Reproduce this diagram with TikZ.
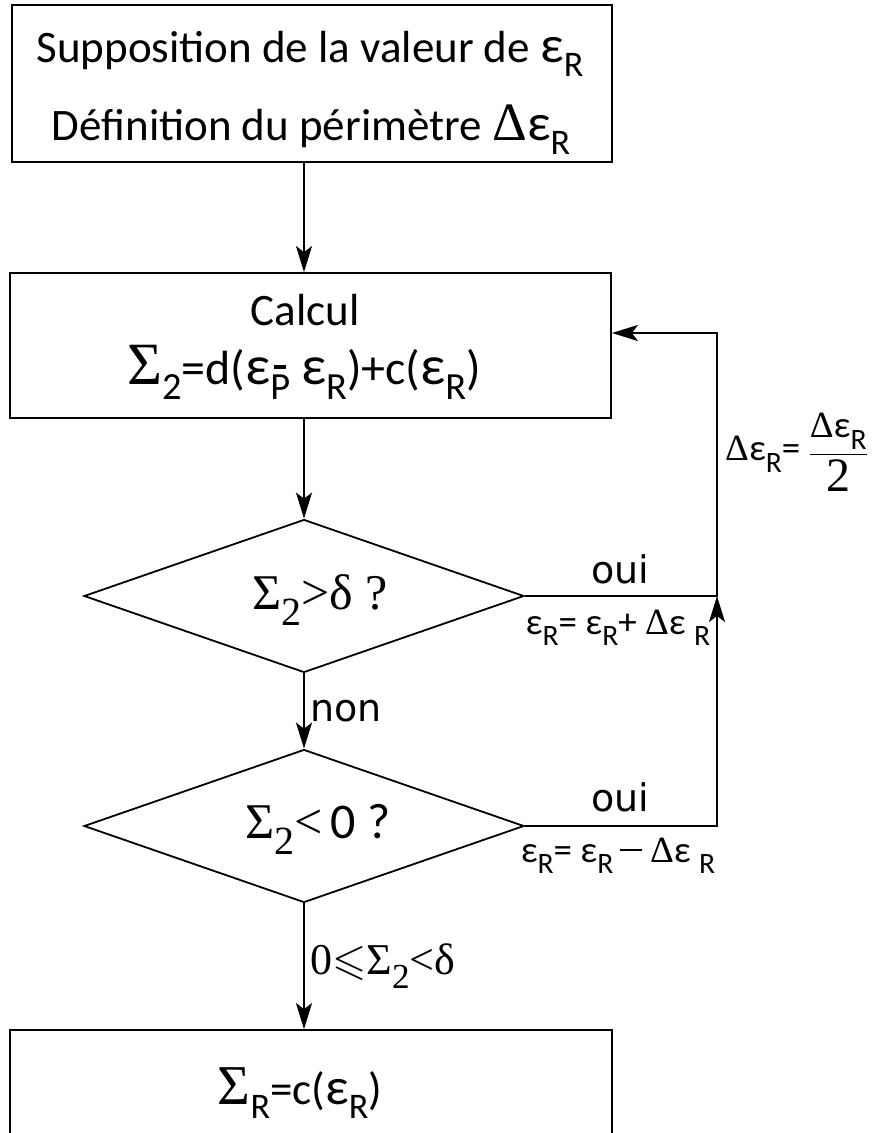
\documentclass[tikz,border=0pt]{standalone}
\usepackage{fontspec,amssymb}
\usetikzlibrary{arrows.meta,shapes.geometric}
\setmainfont{Carlito}
\newfontfamily\serif{Liberation Serif}
\newfontfamily\dvs{DejaVu Sans}
\newcommand{\dn}[1]{\raisebox{-.32em}{\scalebox{.8}{#1}}}
\newcommand{\Eps}{\scalebox{1.15}{ε}}
\newcommand{\Sg}{{\serif\scalebox{1.25}{Σ}}}
\newcommand{\Pbar}{\ooalign{P\cr\hfil\raisebox{.8em}{\rule{.32em}{.09em}}\hfil}}

\begin{document}
\begin{tikzpicture}[x=1pt,y=-1pt,line width=1.8pt,
 arr/.style={-{Stealth[length=26pt,width=16pt,inset=6pt]}},
 box/.style={draw,rectangle,inner sep=0pt},
 test/.style={draw,diamond,inner sep=0pt,aspect=2.88,minimum width=440pt,minimum height=153pt},
 big/.style={font=\fontsize{45}{50}\selectfont},
 quest/.style={font=\serif\fontsize{50}{54}\selectfont},
 lab/.style={font=\dvs\fontsize{38}{40}\selectfont},
 eqn/.style={font=\fontsize{37}{40}\selectfont}]
 \useasboundingbox (0,0) rectangle (877,1133);
 \node[box,minimum width=600pt,minimum height=157pt] (init) at (312,83.5) {};
 \node[big,anchor=base] (sup) at (310,62) {Supposition de la valeur de \Eps\dn{R}};
 \node[big,anchor=base] (def) at (311,140) {Définition du périmètre {\serif\scalebox{1.2}{Δ}}\Eps\dn{R}};
 \node[box,minimum width=601pt,minimum height=145pt] (calc) at (310.5,345.5) {};
 \node[big,anchor=base] (calct) at (305,325) {Calcul};
 \node[anchor=base,font=\fontsize{48}{52}\selectfont] (calce) at (304,384) {\Sg\dn{2}=d(\Eps\dn{\Pbar} \Eps\dn{R})+c(\Eps\dn{R})};
 \node[test] (d1) at (304,596) {};
 \node[quest,anchor=base] at (320,609) {Σ\dn{2}>δ ?};
 \node[test] (d2) at (304,826) {};
 \node[quest,anchor=base] at (318,838) {Σ\dn{2}<\,{\rmfamily 0 ?}};
 \node[box,minimum width=602pt,minimum height=130pt] (res) at (311,1095) {};
 \node[big,anchor=base] (rest) at (300,1104) {\Sg\dn{R}=c(\Eps\dn{R})};
 \coordinate (c1) at (717,596);
 \coordinate (c0) at (717,333);
 \coordinate (c2) at (d2.east -| c1);
 % liaisons
 \draw[arr] (init.south -| d1.north) -- (calc.north -| d1.north);
 \draw[arr] (calc.south -| d1.north) -- (d1.north);
 \draw[arr] (d1.south) -- (d2.north) node[lab,midway,anchor=west,xshift=2pt] {non};
 \draw[arr] (d2.south) -- (d2.south |- res.north) node[midway,anchor=west,xshift=2pt,font=\serif\fontsize{44}{48}\selectfont] {0$\leqslant$Σ\dn{2}<δ};
 \draw[arr] (d1.east) -- (c1) -- (c0) -- (c0 -| calc.east);
 \draw[arr] (d2.east) -- (c2) -- (c1);
 \node[lab,anchor=base] at (620,583) {oui};
 \node[lab,anchor=base] at (620,811) {oui};
 \node[eqn,anchor=base] at (618,634) {ε\dn{R}= ε\dn{R}+ {\serif Δ}ε \dn{R}};
 \node[eqn,anchor=base] at (618,862) {ε\dn{R}= ε\dn{R}\,\rule[.3em]{.6em}{2.2pt} {\serif Δ}ε \dn{R}};
 \node[eqn,anchor=west] at (721,452) {{\serif Δ}ε\dn{R}= $\displaystyle\frac{\hbox{\serif Δ\rmfamily ε\dn{R}}}{\hbox{\serif\fontsize{48}{50}\selectfont 2}}$};
\end{tikzpicture}
\end{document}
